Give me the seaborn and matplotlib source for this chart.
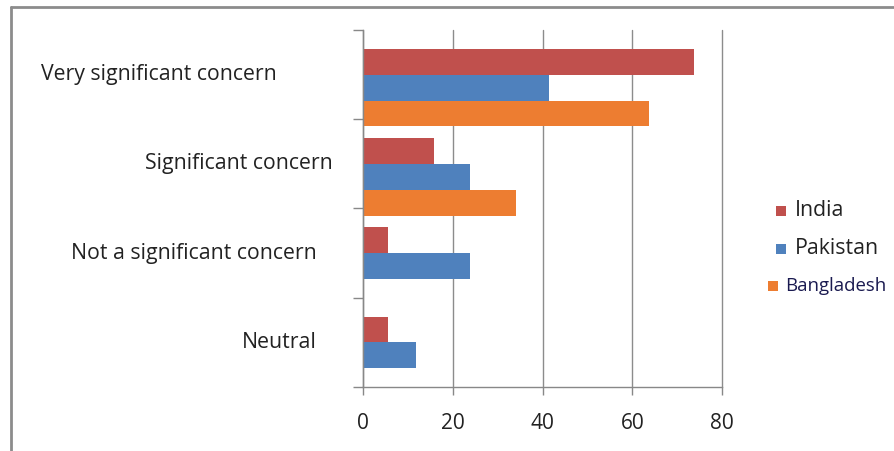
import matplotlib
matplotlib.use("Agg")
import matplotlib.pyplot as plt
from matplotlib.patches import Rectangle
from matplotlib.lines import Line2D
import matplotlib.transforms as mtransforms
import seaborn as sns
import pandas as pd

categories = ["Very significant concern", "Significant concern",
              "Not a significant concern", "Neutral"]
series = ["India", "Pakistan", "Bangladesh"]
india = [73.7, 15.9, 5.5, 5.5]
pakistan = [41.4, 23.8, 23.8, 11.9]
bangladesh = [63.7, 34.2, 0, 0]
xticks = [0, 20, 40, 60, 80]

colors = {"India": "#C0504D", "Pakistan": "#4F81BD", "Bangladesh": "#ED7D31"}

rows = []
for s, vals in zip(series, [india, pakistan, bangladesh]):
    for c, v in zip(categories, vals):
        rows.append({"category": c, "series": s, "value": v})
df = pd.DataFrame(rows)

sns.set_theme(style="white")
plt.rcParams["font.family"] = ["Open Sans", "DejaVu Sans"]

W, H = 894, 451
fig = plt.figure(figsize=(W / 100, H / 100), dpi=100)

def px(x0, y0, x1, y1):
    return [x0 / W, 1 - y1 / H, (x1 - x0) / W, (y1 - y0) / H]

ax = fig.add_axes(px(363, 30, 722, 387))
sns.barplot(data=df, y="category", x="value", hue="series", order=categories,
            hue_order=series, palette=colors, orient="h", width=0.87,
            ax=ax, legend=False, saturation=1, edgecolor="none")

# Excel-like layout: bar groups sit lower than the category label centres
off = 0.146
ax.set_ylim(len(categories) - 0.5 - off, -0.5 - off)
ax.set_xlim(0, 80)
ax.set_xticks(xticks)
ax.set_xticklabels([str(t) for t in xticks], fontsize=15, color="#222222")
ax.tick_params(axis="x", bottom=True, length=6, width=1, color="#888888", pad=13,
               direction="out")
ax.xaxis.grid(True, color="#8c8c8c", linewidth=1)
for gl in ax.get_xgridlines():
    gl.set_clip_on(False)
ax.set_axisbelow(True)

# y ticks at category boundaries, no labels
bounds = [i - 0.5 - off for i in range(len(categories) + 1)]
ax.set_yticks(bounds)
ax.set_yticklabels([])
ax.tick_params(axis="y", left=True, length=7, width=1, color="#888888", direction="out")
ax.set_ylabel("")
ax.set_xlabel("")

for sp in ["top", "right"]:
    ax.spines[sp].set_visible(False)
for sp in ["left", "bottom"]:
    ax.spines[sp].set_color("#888888")
    ax.spines[sp].set_linewidth(1)

# category labels (right edges as in reference)
label_right_px = [277, 333, 317, 317]
trans = mtransforms.blended_transform_factory(fig.transFigure, ax.transData)
for i, (c, r) in enumerate(zip(categories, label_right_px)):
    fig.text(r / W, i - off, c, transform=trans, ha="right", va="center",
             fontsize=15.3, color="#222222")

# legend
leg_items = [("India", 776, 795, 211), ("Pakistan", 776, 795, 249),
             ("Bangladesh", 768, 785, 286)]
for name, mx, tx, ty in leg_items:
    fig.patches.append(Rectangle((mx / W, 1 - (ty + 5) / H), 10 / W, 10 / H,
                                 transform=fig.transFigure,
                                 facecolor=colors[name], edgecolor="none"))
    if name == "Bangladesh":
        fig.text(tx / W, 1 - ty / H, name, ha="left", va="center",
                 fontsize=13.4, color="#1a1a50", fontweight="medium",
                 family=["Open Sans", "DejaVu Sans"])
    else:
        fig.text(tx / W, 1 - ty / H, name, ha="left", va="center",
                 fontsize=15.3, color="#222222")

# outer frame (top and left edges)
fig.add_artist(Line2D([10.5 / W, 1], [1 - 7 / H, 1 - 7 / H], transform=fig.transFigure,
                      color="#8c8c8c", linewidth=2))
fig.add_artist(Line2D([10.5 / W, 10.5 / W], [0, 1 - 7 / H], transform=fig.transFigure,
                      color="#8c8c8c", linewidth=2))

fig.savefig("out.png", dpi=100)
